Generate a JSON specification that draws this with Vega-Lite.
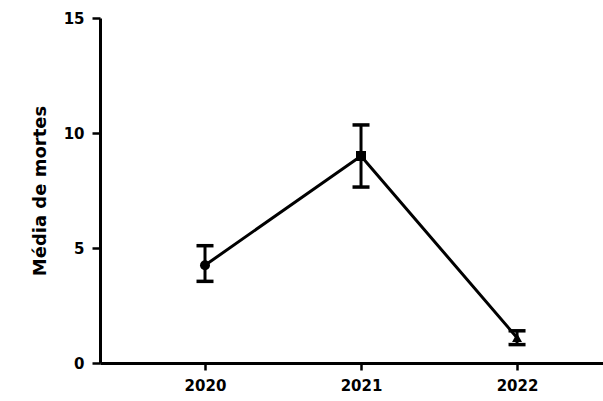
{
  "$schema": "https://vega.github.io/schema/vega-lite/v6.json",
  "autosize": "none",
  "width": 503,
  "height": 345,
  "padding": {"left": 100, "top": 18, "right": 0, "bottom": 38},
  "background": "white",
  "config": {
    "view": {"stroke": null},
    "axis": {
      "domainColor": "black", "domainWidth": 3, "tickColor": "black", "tickWidth": 2.5, "tickSize": 8,
      "labelFont": "DejaVu Sans", "labelFontWeight": "bold", "labelFontSize": 15, "labelColor": "black",
      "titleFont": "DejaVu Sans", "titleFontWeight": "bold", "titleFontSize": 18, "titleColor": "black",
      "grid": false
    }
  },
  "data": {
    "values": [
      {"ano": 2020, "media": 4.25, "low": 3.55, "high": 5.1, "forma": "a"},
      {"ano": 2021, "media": 9.0, "low": 7.65, "high": 10.35, "forma": "b"},
      {"ano": 2022, "media": 1.1, "low": 0.8, "high": 1.4, "forma": "c"}
    ]
  },
  "encoding": {
    "x": {
      "field": "ano", "type": "quantitative",
      "scale": {"domain": [2019.327, 2022.551], "nice": false, "zero": false},
      "axis": {"values": [2020, 2021, 2022], "format": "d", "title": null, "labelPadding": 8, "labelFlush": false, "tickSize": 7}
    }
  },
  "layer": [
    {
      "mark": {"type": "line", "color": "black", "strokeWidth": 3},
      "encoding": {
        "y": {
          "field": "media", "type": "quantitative",
          "scale": {"domain": [0, 15], "nice": false},
          "axis": {"values": [0, 5, 10, 15], "title": "Média de mortes", "titlePadding": 14, "labelPadding": 8}
        }
      }
    },
    {
      "mark": {"type": "rule", "color": "black", "strokeWidth": 3},
      "encoding": {"y": {"field": "low", "type": "quantitative"}, "y2": {"field": "high"}}
    },
    {
      "mark": {"type": "tick", "color": "black", "opacity": 1, "orient": "horizontal", "size": 17, "thickness": 3.5},
      "encoding": {"y": {"field": "low", "type": "quantitative"}}
    },
    {
      "mark": {"type": "tick", "color": "black", "opacity": 1, "orient": "horizontal", "size": 17, "thickness": 3.5},
      "encoding": {"y": {"field": "high", "type": "quantitative"}}
    },
    {
      "mark": {"type": "point", "filled": true, "color": "black", "opacity": 1, "size": 100},
      "encoding": {
        "y": {"field": "media", "type": "quantitative"},
        "shape": {"field": "forma", "type": "nominal", "scale": {"domain": ["a", "b", "c"], "range": ["circle", "square", "triangle-up"]}, "legend": null}
      }
    }
  ]
}
